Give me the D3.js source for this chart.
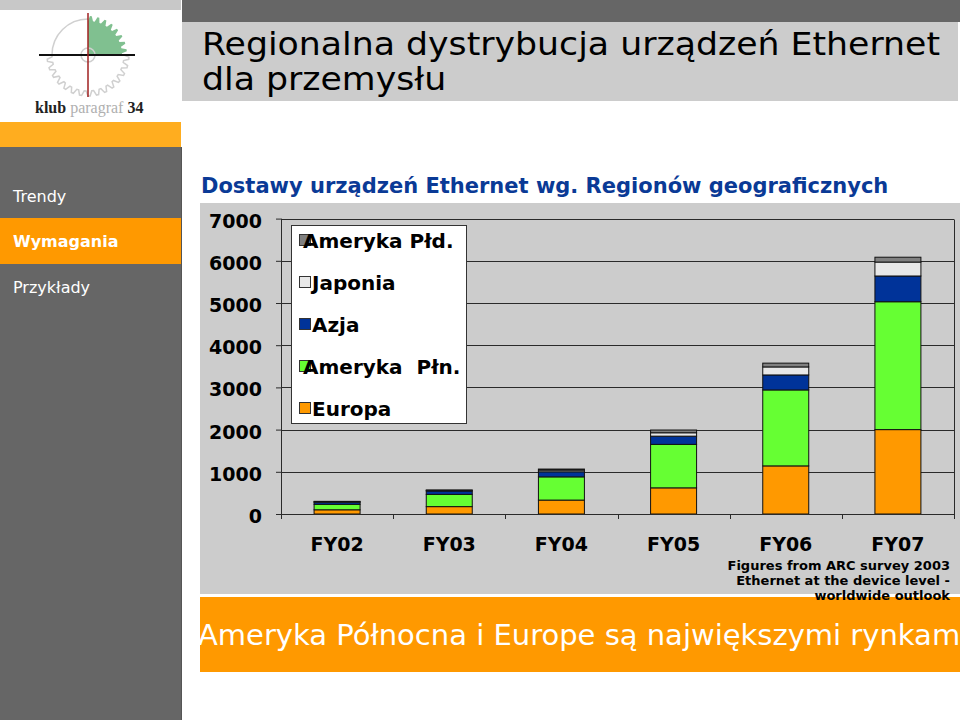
<!DOCTYPE html>
<html>
<head>
<meta charset="utf-8">
<script src="https://cdn.jsdelivr.net/npm/d3@7"></script>
<style>
  html, body { margin: 0; padding: 0; background: #fff; }
  svg { display: block; font-family: "DejaVu Sans", sans-serif; }
</style>
</head>
<body>
<svg id="c" width="960" height="720"></svg>
<script>
// ---- data ----
const categories = ["FY02", "FY03", "FY04", "FY05", "FY06", "FY07"];
const europa  = [100, 175, 330, 620, 1140, 2000];
const amPln   = [130, 290, 550, 1030, 1800, 3030];
const azja    = [50, 80, 120, 195, 355, 610];
const japonia = [10, 15, 40, 80, 190, 330];
const amPld   = [10, 10, 25, 65, 90, 115];
const seriesNames = ["Europa", "Ameryka  Płn.", "Azja", "Japonia", "Ameryka Płd."];
const seriesColors = ["#ff9900", "#66ff33", "#003399", "#e8e8e8", "#808080"];
const yTicks = [0, 1000, 2000, 3000, 4000, 5000, 6000, 7000];
const menuItems = ["Trendy", "Wymagania", "Przykłady"];
const slideTitle = ["Regionalna dystrybucja urządzeń Ethernet", "dla przemysłu"];
const chartTitle = "Dostawy urządzeń Ethernet wg. Regionów geograficznych";
const footnote = ["Figures from ARC survey 2003", "Ethernet at the device level -", "worldwide outlook"];
const banner = "Ameryka Północna i Europe są największymi rynkami";

const svg = d3.select("#c");

// ---- slide frame ----
svg.append("rect").attr("x", 0).attr("y", 0).attr("width", 181).attr("height", 10).attr("fill", "#c8c8c8");
svg.append("rect").attr("x", 0).attr("y", 122).attr("width", 181).attr("height", 25).attr("fill", "#ffad1f");
svg.append("rect").attr("x", 0).attr("y", 147).attr("width", 181).attr("height", 573).attr("fill", "#666666");
svg.append("rect").attr("x", 182).attr("y", 0).attr("width", 778).attr("height", 22).attr("fill", "#666666");
svg.append("rect").attr("x", 182).attr("y", 22).attr("width", 776).attr("height", 79).attr("fill", "#cccccc");

// logo
const logo = svg.append("g");
const cx = 88, cy = 55;
function gearPath(a0, a1, rIn, rOut, teeth) {
  const pts = [];
  const n = teeth * 4;
  for (let i = 0; i <= n; i++) {
    const a = a0 + (a1 - a0) * i / n;
    const phase = i % 4;
    const r = (phase === 1 || phase === 2) ? rOut : rIn;
    pts.push([cx + r * Math.cos(a), cy + r * Math.sin(a)]);
  }
  return pts;
}
logo.append("path")
  .attr("d", d3.arc()({innerRadius: 36, outerRadius: 36, startAngle: -Math.PI / 2, endAngle: 0}))
  .attr("transform", `translate(${cx},${cy})`)
  .attr("fill", "none").attr("stroke", "#d0d0d0").attr("stroke-width", 1.5);
logo.append("path")
  .attr("d", d3.line()(gearPath(0, Math.PI, 36, 41, 15)))
  .attr("fill", "none").attr("stroke", "#d0d0d0").attr("stroke-width", 1.5);
const gq = gearPath(-Math.PI / 2, 0, 34, 39, 8);
logo.append("path")
  .attr("d", d3.line()([[cx, cy]].concat(gq).concat([[cx, cy]])))
  .attr("fill", "#80c090").attr("stroke", "none");
logo.append("circle").attr("cx", cx).attr("cy", cy).attr("r", 7)
  .attr("fill", "none").attr("stroke", "#cfcfcf").attr("stroke-width", 1.5);
logo.append("line").attr("x1", 39).attr("x2", 135).attr("y1", cy).attr("y2", cy)
  .attr("stroke", "#111").attr("stroke-width", 2);
logo.append("line").attr("x1", cx).attr("x2", cx).attr("y1", 13).attr("y2", 97)
  .attr("stroke", "#a02020").attr("stroke-width", 1.5);
const lt = logo.append("text").attr("x", 35).attr("y", 113)
  .style("font-family", "'Liberation Serif', 'DejaVu Serif', serif").style("font-size", "16px");
lt.append("tspan").attr("fill", "#222").style("font-weight", "bold").text("klub ");
lt.append("tspan").attr("fill", "#b0b0b0").text("paragraf ");
lt.append("tspan").attr("fill", "#222").style("font-weight", "bold").text("34");

// menu
svg.append("rect").attr("x", 0).attr("y", 218).attr("width", 181).attr("height", 46).attr("fill", "#ff9900");
svg.selectAll("text.menu").data(menuItems).enter().append("text")
  .attr("class", "menu")
  .attr("x", 13).attr("y", (d, i) => 202 + i * 45.3)
  .attr("fill", "#fff")
  .style("font-size", "16px")
  .style("font-weight", (d, i) => i === 1 ? "bold" : "normal")
  .text(d => d);

// slide title (slightly wide glyphs as in the reference)
svg.selectAll("text.title").data(slideTitle).enter().append("text")
  .attr("class", "title")
  .attr("transform", (d, i) => `translate(202,${55 + i * 34.5}) scale(1.085,1)`)
  .attr("fill", "#000").style("font-size", "32px")
  .text(d => d);

// chart title
svg.append("text").attr("x", 201).attr("y", 193)
  .attr("fill", "#0a3a96").style("font-size", "21px").style("font-weight", "bold")
  .text(chartTitle);

// chart panel
svg.append("rect").attr("x", 200).attr("y", 203).attr("width", 760).attr("height", 391).attr("fill", "#cccccc");

// ---- chart ----
const x = d3.scaleBand().domain(categories).range([281, 954]).paddingInner(0.59).paddingOuter(0.295);
const y = d3.scaleLinear().domain([0, 7000]).range([514, 218.6]);

const rows = categories.map((c, i) => ({cat: c, s0: europa[i], s1: amPln[i], s2: azja[i], s3: japonia[i], s4: amPld[i]}));
const keys = ["s0", "s1", "s2", "s3", "s4"];
const stacked = d3.stack().keys(keys)(rows);

svg.append("g").selectAll("line").data(yTicks.filter(t => t > 0)).enter().append("line")
  .attr("x1", 281).attr("x2", 954)
  .attr("y1", d => Math.round(y(d)) + 0.5).attr("y2", d => Math.round(y(d)) + 0.5)
  .attr("stroke", "#2a2a2a").attr("stroke-width", 1);
svg.append("line").attr("x1", 954.5).attr("x2", 954.5).attr("y1", Math.round(y(7000)) + 0.5).attr("y2", 514)
  .attr("stroke", "#2a2a2a");

svg.append("g").selectAll("g").data(stacked).enter().append("g")
  .attr("fill", (d, i) => seriesColors[i])
  .selectAll("rect").data(d => d).enter().append("rect")
  .attr("x", d => x(d.data.cat))
  .attr("width", x.bandwidth())
  .attr("y", d => y(d[1]))
  .attr("height", d => y(d[0]) - y(d[1]))
  .attr("stroke", "#111").attr("stroke-width", 1);

const yAxis = svg.append("g").attr("transform", "translate(281,0)")
  .call(d3.axisLeft(y).tickValues(yTicks).tickSize(5).tickPadding(14).tickFormat(d3.format("d")));
yAxis.select(".domain").remove();
yAxis.selectAll("line").attr("stroke", "#2a2a2a");
yAxis.selectAll("text").attr("fill", "#000").attr("dy", "0.45em")
  .style("font-family", "DejaVu Sans").style("font-size", "19px").style("font-weight", "bold");
svg.append("line").attr("x1", 281.5).attr("x2", 281.5).attr("y1", y(7000)).attr("y2", 519).attr("stroke", "#2a2a2a");

svg.append("line").attr("x1", 281).attr("x2", 954).attr("y1", 514.5).attr("y2", 514.5).attr("stroke", "#2a2a2a");
svg.append("g").selectAll("line").data(d3.range(categories.length + 1)).enter().append("line")
  .attr("x1", i => Math.round(281 + i * x.step()) + 0.5).attr("x2", i => Math.round(281 + i * x.step()) + 0.5)
  .attr("y1", 514).attr("y2", 519).attr("stroke", "#2a2a2a");
const xAxis = svg.append("g").attr("transform", "translate(0,514)")
  .call(d3.axisBottom(x).tickSize(0).tickPadding(24));
xAxis.select(".domain").remove();
xAxis.selectAll("text").attr("fill", "#000")
  .style("font-family", "DejaVu Sans").style("font-size", "19px").style("font-weight", "bold");

// legend
const legendOrder = [4, 3, 2, 1, 0];
const lg = svg.append("g");
lg.append("rect").attr("x", 291.5).attr("y", 225.5).attr("width", 175).attr("height", 198)
  .attr("fill", "#fff").attr("stroke", "#333");
const li = lg.selectAll("g.item").data(legendOrder).enter().append("g").attr("class", "item")
  .attr("transform", (d, i) => `translate(0,${234 + i * 42})`);
li.append("rect").attr("x", 299.5).attr("y", 0.5).attr("width", 11).attr("height", 11)
  .attr("fill", d => seriesColors[d]).attr("stroke", "#333");
li.append("text")
  .attr("x", d => seriesNames[d].startsWith("Ameryka") ? 303 : 312)
  .attr("y", 13.5)
  .attr("fill", "#000").style("font-size", "20px").style("font-weight", "bold")
  .style("white-space", "pre")
  .attr("xml:space", "preserve")
  .text(d => seriesNames[d]);

// banner
svg.append("rect").attr("x", 200).attr("y", 597).attr("width", 760).attr("height", 75).attr("fill", "#ff9900");
svg.append("text").attr("x", 198).attr("y", 645)
  .attr("fill", "#fff").style("font-size", "29px")
  .text(banner);

// footnote
svg.selectAll("text.fn").data(footnote).enter().append("text")
  .attr("class", "fn")
  .attr("x", 950).attr("y", (d, i) => 570 + i * 15)
  .attr("text-anchor", "end")
  .attr("fill", "#000").style("font-size", "13px").style("font-weight", "bold")
  .text(d => d);

svg.append("line").attr("x1", 181.5).attr("x2", 181.5).attr("y1", 147).attr("y2", 720).attr("stroke", "#555");
</script>
</body>
</html>
